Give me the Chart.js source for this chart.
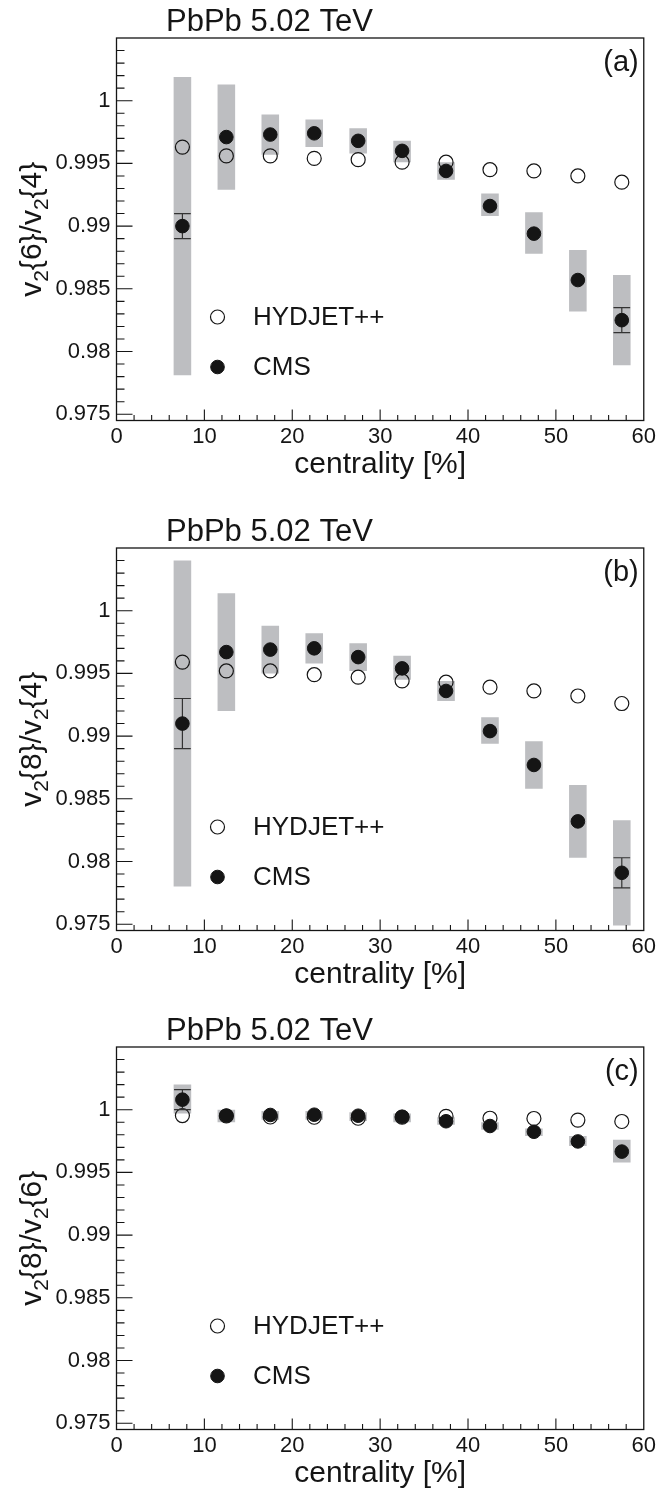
<!DOCTYPE html>
<html>
<head>
<meta charset="utf-8">
<script src="https://cdn.jsdelivr.net/npm/chart.js@4.4.0/dist/chart.umd.min.js"></script>
<style>
  body { margin: 0; background: #fff; width: 659px; height: 1490px; position: relative; overflow: hidden; }
  .panel { position: absolute; left: 0; width: 659px; height: 480px; }
</style>
</head>
<body>
<div class="panel" style="top:0px"><canvas id="panelA" width="659" height="480"></canvas></div>
<div class="panel" style="top:510px"><canvas id="panelB" width="659" height="480"></canvas></div>
<div class="panel" style="top:1009px"><canvas id="panelC" width="659" height="480"></canvas></div>
<script>
// centrality bins (bin centres, %)
const centrality = [7.5, 12.5, 17.5, 22.5, 27.5, 32.5, 37.5, 42.5, 47.5, 52.5, 57.5];
const xTickValues = [0, 10, 20, 30, 40, 50, 60];
const xTickLabels = ['0', '10', '20', '30', '40', '50', '60'];
const yTickValues = [0.975, 0.98, 0.985, 0.99, 0.995, 1];
const yTickLabels = ['0.975', '0.98', '0.985', '0.99', '0.995', '1'];
const legendLabels = ['HYDJET++', 'CMS'];

// (a) v2{6}/v2{4}
const hydjet64 = [0.9963, 0.9956, 0.9956, 0.9954, 0.9953, 0.9951, 0.9951, 0.9945, 0.9944, 0.9940, 0.9935];
const cms64 = [0.9900, 0.9971, 0.9973, 0.9974, 0.9968, 0.9960, 0.9944, 0.9916, 0.9894, 0.9857, 0.9825];
const cms64Stat = [0.0010, 0.0003, 0.0002, 0.0002, 0.0002, 0.0002, 0.0003, 0.0003, 0.0004, 0.0005, 0.0010];
const cms64SysLo = [0.9781, 0.9929, 0.9957, 0.9963, 0.9958, 0.9951, 0.9937, 0.9908, 0.9878, 0.9832, 0.9789];
const cms64SysHi = [1.0019, 1.0013, 0.9989, 0.9985, 0.9978, 0.9968, 0.9951, 0.9926, 0.9911, 0.9881, 0.9861];

// (b) v2{8}/v2{4}
const hydjet84 = [0.9959, 0.9952, 0.9952, 0.9949, 0.9947, 0.9944, 0.9943, 0.9939, 0.9936, 0.9932, 0.9926];
const cms84 = [0.9910, 0.9967, 0.9969, 0.9970, 0.9963, 0.9954, 0.9936, 0.9904, 0.9877, 0.9832, 0.9791];
const cms84Stat = [0.0020, 0.0003, 0.0003, 0.0003, 0.0003, 0.0003, 0.0003, 0.0004, 0.0005, 0.0005, 0.0012];
const cms84SysLo = [0.9780, 0.9920, 0.9950, 0.9958, 0.9952, 0.9945, 0.9928, 0.9894, 0.9858, 0.9803, 0.9749];
const cms84SysHi = [1.0040, 1.0014, 0.9988, 0.9982, 0.9974, 0.9964, 0.9944, 0.9915, 0.9896, 0.9861, 0.9833];

// (c) v2{8}/v2{6}
const hydjet86 = [0.99953, 0.9995, 0.99942, 0.9994, 0.99932, 0.9994, 0.99947, 0.99932, 0.9993, 0.99917, 0.99906];
const cms86 = [1.0008, 0.99953, 0.99958, 0.9996, 0.99952, 0.99944, 0.99908, 0.99870, 0.99824, 0.99747, 0.99666];
const cms86Stat = [0.0008, 0.0001, 0.0001, 0.0001, 0.0001, 0.0001, 0.0001, 0.0001, 0.0001, 0.0001, 0.0001];
const cms86SysLo = [0.9997, 0.9990, 0.9992, 0.9992, 0.9991, 0.9990, 0.9988, 0.9984, 0.9979, 0.9971, 0.9958];
const cms86SysHi = [1.0020, 1.0000, 0.9999, 0.9999, 0.9998, 0.9997, 0.9994, 0.9990, 0.9985, 0.9979, 0.9976];

const FONT = '"Liberation Sans", Arimo, Helvetica, Arial, sans-serif';
const INK = '#151515';
const BOX_GREY = '#bdbec1';

Chart.defaults.font.family = FONT;
Chart.defaults.color = INK;

// ROOT-like frame, inward ticks, titles and legend
const rootStyle = {
    id: 'rootStyle',
    beforeDatasetDraw(chart, args) {
        const ds = chart.data.datasets[args.index];
        if (!ds.statErr) return;
        const { ctx } = chart;
        const xs = chart.scales.x, ys = chart.scales.y;
        ctx.save();
        ctx.strokeStyle = '#333';
        ctx.lineWidth = 1.2;
        ds.data.forEach((p, i) => {
            const e = ds.statErr[i];
            const px = xs.getPixelForValue(p.x);
            const yt = ys.getPixelForValue(p.y + e);
            const yb = ys.getPixelForValue(p.y - e);
            // error smaller than the marker: ROOT hides it
            if ((yb - yt) / 2 <= ds.pointRadius + 1) return;
            const half = (xs.getPixelForValue(p.x + 1) - px) * 0.95;
            ctx.beginPath();
            ctx.moveTo(px, yt); ctx.lineTo(px, yb);
            ctx.moveTo(px - half, yt); ctx.lineTo(px + half, yt);
            ctx.moveTo(px - half, yb); ctx.lineTo(px + half, yb);
            ctx.stroke();
        });
        ctx.restore();
    },
    afterDraw(chart, args, opts) {
        const { ctx, chartArea: a } = chart;
        const xs = chart.scales.x, ys = chart.scales.y;
        ctx.save();

        // minor / major ticks pointing into the frame
        ctx.strokeStyle = INK;
        ctx.lineWidth = 1.1;
        ctx.beginPath();
        for (let k = Math.ceil(ys.min / 0.001 - 1e-6); k * 0.001 < ys.max - 1e-6; k++) {
            const py = ys.getPixelForValue(k * 0.001);
            const len = (k % 5 === 0) ? 16 : 8;
            ctx.moveTo(a.left, py); ctx.lineTo(a.left + len, py);
        }
        for (let k = 1; k * 2 < xs.max; k++) {
            const px = xs.getPixelForValue(k * 2);
            const len = (k % 5 === 0) ? 11 : 5.5;
            ctx.moveTo(px, a.bottom); ctx.lineTo(px, a.bottom - len);
        }
        ctx.stroke();

        // frame
        ctx.lineWidth = 1.3;
        ctx.strokeRect(a.left, a.top, a.right - a.left, a.bottom - a.top);

        ctx.fillStyle = INK;
        // energy title
        ctx.font = '31px ' + FONT;
        ctx.textAlign = 'left';
        ctx.textBaseline = 'alphabetic';
        ctx.fillText(opts.title, 166, 30.5);

        // panel tag
        ctx.font = '29px ' + FONT;
        ctx.textAlign = 'right';
        ctx.fillText(opts.tag, a.right - 5, a.top + 33);

        // x title
        ctx.font = '30px ' + FONT;
        ctx.textAlign = 'center';
        ctx.fillText(opts.xTitle, (a.left + a.right) / 2, a.bottom + 52);

        // y title with subscripts, rotated
        ctx.translate(41, (a.top + a.bottom) / 2);
        ctx.rotate(-Math.PI / 2);
        ctx.textAlign = 'left';
        const parts = opts.yTitle.map(p => ({ ...p, font: (p.sub ? '21px ' : '30px ') + FONT }));
        let total = 0;
        parts.forEach(p => { ctx.font = p.font; p.w = ctx.measureText(p.t).width; total += p.w; });
        let cx = -total / 2;
        parts.forEach(p => {
            ctx.font = p.font;
            ctx.fillText(p.t, cx, p.sub ? 7 : 0);
            cx += p.w;
        });
        ctx.setTransform(1, 0, 0, 1, 0, 0);

        // legend built from dataset styles
        const legendSets = chart.data.datasets.filter(d => d.type === 'scatter');
        legendSets.forEach((d, i) => {
            const ly = a.top + 279 + i * 50;
            ctx.beginPath();
            ctx.arc(217.5, ly, d.pointRadius, 0, Math.PI * 2);
            ctx.fillStyle = d.backgroundColor;
            ctx.fill();
            ctx.lineWidth = d.borderWidth;
            ctx.strokeStyle = d.borderColor;
            ctx.stroke();
            ctx.fillStyle = INK;
            ctx.font = '26px ' + FONT;
            ctx.textAlign = 'left';
            ctx.textBaseline = 'middle';
            ctx.fillText(d.label, 253, ly + 1);
        });
        ctx.restore();
    }
};

function makePanel(id, hydjet, cms, stat, sysLo, sysHi, tag, yTitle) {
    const ctx = document.getElementById(id).getContext('2d');
    return new Chart(ctx, {
        type: 'scatter',
        data: {
            datasets: [
                {
                    type: 'bar',
                    label: 'syst',
                    data: centrality.map((c, i) => ({ x: c, y: [sysLo[i], sysHi[i]] })),
                    backgroundColor: BOX_GREY,
                    borderWidth: 0,
                    barPercentage: 0.4,
                    categoryPercentage: 1,
                    grouped: false,
                    order: 3
                },
                {
                    type: 'scatter',
                    label: legendLabels[0],
                    data: centrality.map((c, i) => ({ x: c, y: hydjet[i] })),
                    pointRadius: 7,
                    backgroundColor: 'rgba(0,0,0,0)',
                    borderColor: INK,
                    borderWidth: 1.2,
                    order: 2
                },
                {
                    type: 'scatter',
                    label: legendLabels[1],
                    data: centrality.map((c, i) => ({ x: c, y: cms[i] })),
                    statErr: stat,
                    pointRadius: 6.8,
                    backgroundColor: INK,
                    borderColor: INK,
                    borderWidth: 1,
                    order: 1
                }
            ]
        },
        options: {
            responsive: false,
            animation: false,
            devicePixelRatio: 1,
            layout: { padding: { top: 38, right: 13, left: 0, bottom: 0 } },
            plugins: {
                legend: { display: false },
                tooltip: { enabled: false },
                rootStyle: {
                    title: 'PbPb 5.02 TeV',
                    tag: tag,
                    xTitle: 'centrality [%]',
                    yTitle: yTitle
                }
            },
            scales: {
                x: {
                    type: 'linear',
                    min: 0,
                    max: 60,
                    offset: false,
                    grid: { display: false, drawTicks: false },
                    border: { display: false },
                    afterBuildTicks: (scale) => { scale.ticks = xTickValues.map(v => ({ value: v })); },
                    afterFit: (scale) => { scale.height = 59.5; },
                    ticks: {
                        autoSkip: false,
                        maxRotation: 0,
                        padding: 3,
                        font: { size: 22 },
                        color: INK,
                        callback: (v, i) => xTickLabels[i]
                    }
                },
                y: {
                    type: 'linear',
                    min: 0.9745,
                    max: 1.005,
                    grid: { display: false, drawTicks: false },
                    border: { display: false },
                    afterBuildTicks: (scale) => { scale.ticks = yTickValues.map(v => ({ value: v })); },
                    afterFit: (scale) => { scale.width = 116.5; },
                    ticks: {
                        autoSkip: false,
                        padding: 6,
                        font: { size: 22 },
                        color: INK,
                        callback: (v, i) => yTickLabels[i]
                    }
                }
            }
        },
        plugins: [rootStyle]
    });
}

const sub = (t) => ({ t, sub: true });
const txt = (t) => ({ t, sub: false });

makePanel('panelA', hydjet64, cms64, cms64Stat, cms64SysLo, cms64SysHi, '(a)',
    [txt('v'), sub('2'), txt('{6}/v'), sub('2'), txt('{4}')]);
makePanel('panelB', hydjet84, cms84, cms84Stat, cms84SysLo, cms84SysHi, '(b)',
    [txt('v'), sub('2'), txt('{8}/v'), sub('2'), txt('{4}')]);
makePanel('panelC', hydjet86, cms86, cms86Stat, cms86SysLo, cms86SysHi, '(c)',
    [txt('v'), sub('2'), txt('{8}/v'), sub('2'), txt('{6}')]);
</script>
</body>
</html>
